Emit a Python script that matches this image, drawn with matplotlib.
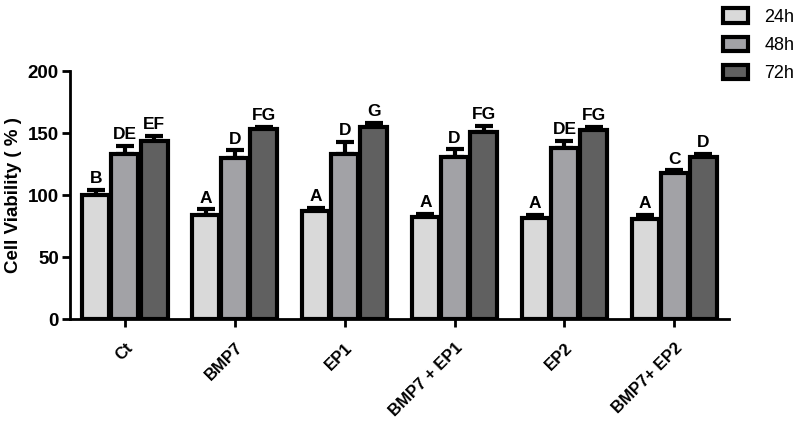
import numpy as np
import matplotlib.pyplot as plt

groups = ['Ct', 'BMP7', 'EP1', 'BMP7 + EP1', 'EP2', 'BMP7+ EP2']
times = ['24h', '48h', '72h']
colors = ['#d9d9d9', '#a2a2a6', '#606060']

mean_24 = [100, 84, 87, 82, 81.5, 81]
mean_48 = [133, 130, 133, 131, 138, 118]
mean_72 = [144, 153, 155, 151, 152.5, 131]
err_24 = [4, 4.5, 3, 3, 2.5, 3]
err_48 = [7, 6, 10, 6, 6, 2]
err_72 = [4, 2, 3, 5, 2.5, 2]
letters_24 = ['B', 'A', 'A', 'A', 'A', 'A']
letters_48 = ['DE', 'D', 'D', 'D', 'DE', 'C']
letters_72 = ['EF', 'FG', 'G', 'FG', 'FG', 'D']

means = [mean_24, mean_48, mean_72]
errs = [err_24, err_48, err_72]
letters = [letters_24, letters_48, letters_72]

plt.rcParams['font.family'] = ['Liberation Sans', 'DejaVu Sans']

fig = plt.figure(figsize=(8, 4.26), dpi=100)
ax = fig.add_axes([0.0875, 0.251, 0.824, 0.582])

x = np.arange(len(groups))
width = 0.245
step = 0.265

for i in range(3):
    xs = x + (i - 1) * step
    ax.bar(xs, means[i], width, color=colors[i], edgecolor='black',
           linewidth=3, label=times[i], zorder=3)
    ax.errorbar(xs, means[i], yerr=[np.zeros(len(groups)), errs[i]], fmt='none',
                ecolor='black', elinewidth=3, capsize=6.5, capthick=3, zorder=2)
    for xx, m, e, t in zip(xs, means[i], errs[i], letters[i]):
        ax.text(xx, m + e + 3, t, ha='center', va='bottom', fontsize=12.5,
                fontweight='bold')

ax.set_xlim(-0.5, 5.5)
ax.set_ylim(0, 200)
ax.set_yticks([0, 50, 100, 150, 200])
ax.set_xticks(x)
ax.set_xticklabels(groups, rotation=45, ha='right', rotation_mode='anchor',
                   fontsize=12, fontweight='bold')
for lab in ax.get_yticklabels():
    lab.set_fontweight('bold')
    lab.set_fontsize(13.5)
ax.set_ylabel('Cell Viability ( % )', fontsize=13.5, fontweight='bold')

ax.spines['top'].set_visible(False)
ax.spines['right'].set_visible(False)
ax.spines['left'].set_linewidth(2)
ax.spines['bottom'].set_linewidth(2)
ax.tick_params(axis='y', width=2, length=6, pad=2)
ax.tick_params(axis='x', width=2, length=6, pad=9)

leg = ax.legend(loc='upper left', bbox_to_anchor=(0.888, 1.01),
                bbox_transform=fig.transFigure, frameon=False,
                fontsize=13, handlelength=1.4, handleheight=0.85,
                labelspacing=0.6, handletextpad=0.9, borderpad=0.2)

fig.savefig('out.png', dpi=100)
